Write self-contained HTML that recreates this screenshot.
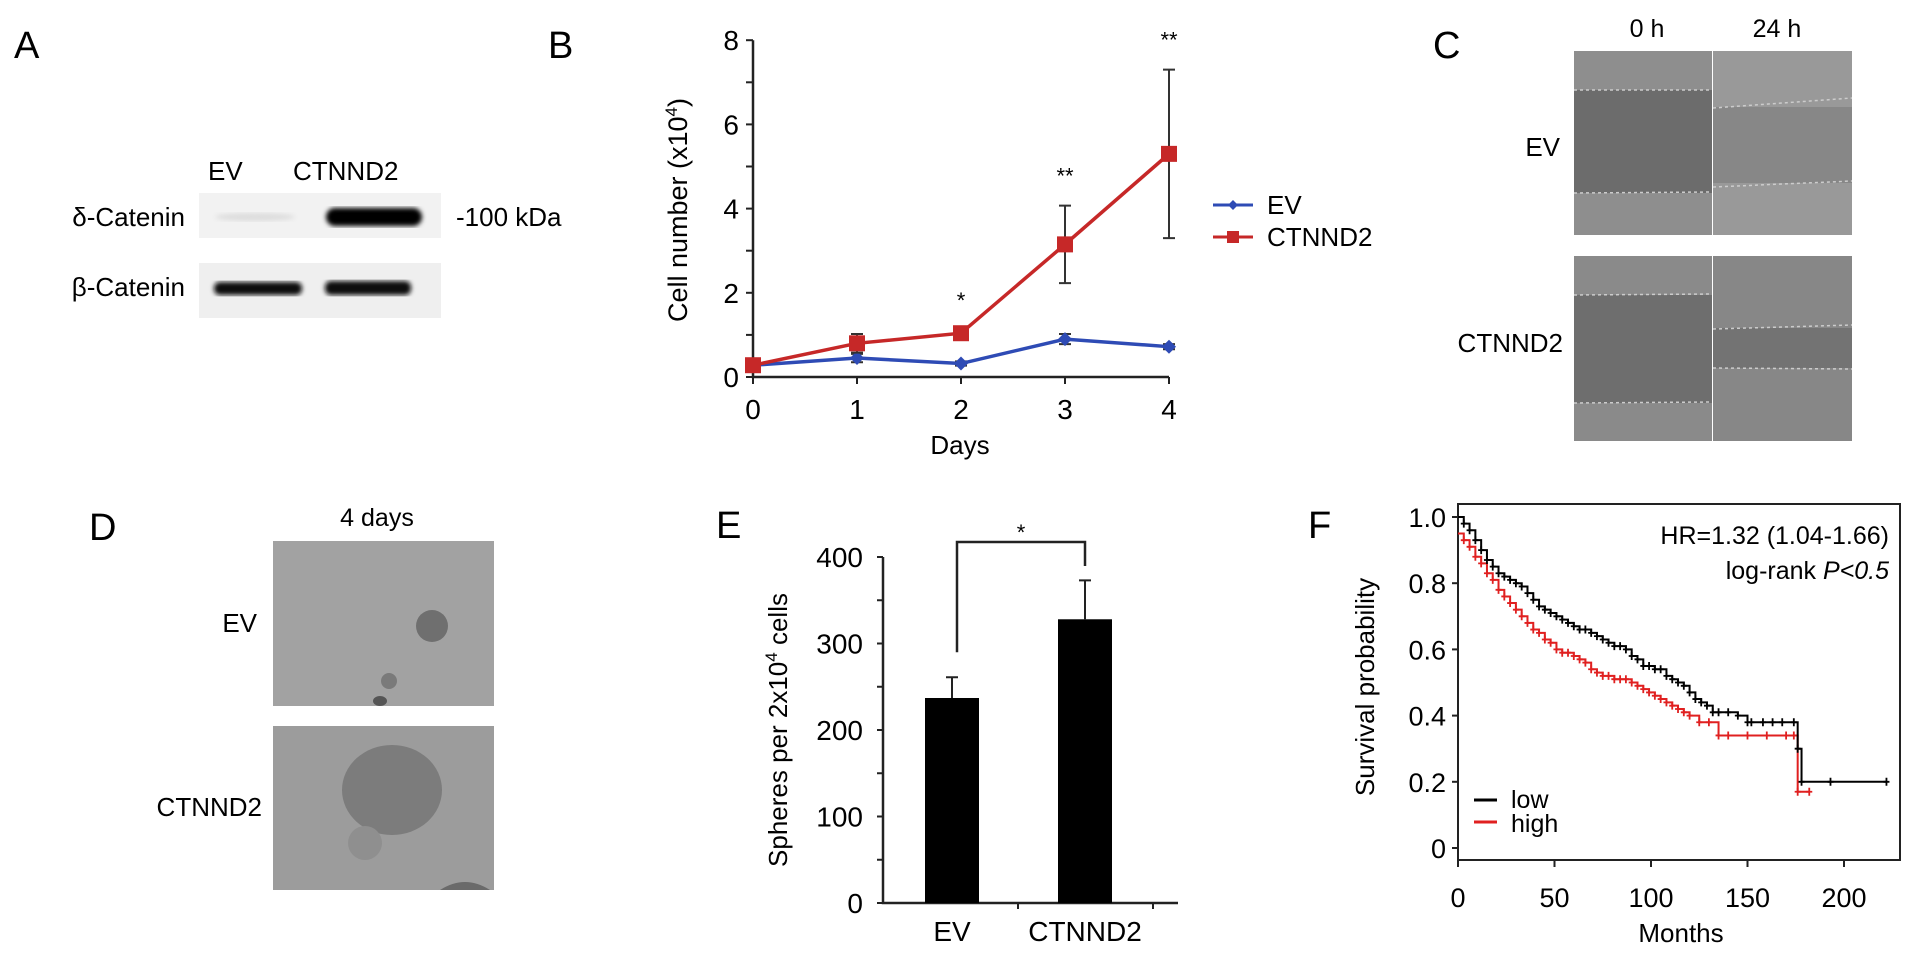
<!DOCTYPE html>
<html><head><meta charset="utf-8"><style>
html,body{margin:0;padding:0;background:#fff;}
svg{display:block;font-family:"Liberation Sans",Arial,sans-serif;}
</style></head><body>
<svg id="fig" width="1913" height="957" viewBox="0 0 1913 957" xmlns="http://www.w3.org/2000/svg">
<defs>
<filter id="blur2"><feGaussianBlur stdDeviation="2.5"/></filter>
</defs>

<!-- Panel A -->
<g>
<text x="14" y="58" font-size="38">A</text>
<text x="208" y="180" font-size="26">EV</text>
<text x="293" y="180" font-size="26">CTNND2</text>
<text x="185" y="226" font-size="26" text-anchor="end">δ-Catenin</text>
<text x="185" y="296" font-size="26" text-anchor="end">β-Catenin</text>
<text x="456" y="226" font-size="26">-100 kDa</text>
<rect x="199" y="193" width="242" height="45" fill="#f2f2f2"/>
<ellipse cx="255" cy="217" rx="40" ry="4" fill="#ddd" filter="url(#blur2)"/>
<rect x="326" y="208" width="96" height="18" rx="9" fill="#000" filter="url(#blur2)"/>
<rect x="199" y="263" width="242" height="55" fill="#efefef"/>
<rect x="214" y="282" width="88" height="13" rx="6" fill="#111" filter="url(#blur2)"/>
<rect x="325" y="281" width="86" height="14" rx="6" fill="#111" filter="url(#blur2)"/>
</g>

<!-- Panel B -->
<g id="panelB">
<text x="548" y="58" font-size="38">B</text>
<text transform="translate(687,210) rotate(-90)" font-size="27" text-anchor="middle">Cell number (x10<tspan dy="-10" font-size="17">4</tspan><tspan dy="10">)</tspan></text>
<text x="960" y="454" font-size="26" text-anchor="middle">Days</text>
<line x1="1213" y1="205" x2="1253" y2="205" stroke="#2e4bb5" stroke-width="3"/>
<path d="M1233 200 L1238 205 L1233 210 L1228 205Z" fill="#2e4bb5"/>
<text x="1267" y="214" font-size="26">EV</text>
<line x1="1213" y1="237" x2="1253" y2="237" stroke="#c62828" stroke-width="3"/>
<rect x="1227" y="231" width="12" height="12" fill="#c62828"/>
<text x="1267" y="246" font-size="26">CTNND2</text>
</g>

<!-- Panel C -->
<g>
<text x="1433" y="58" font-size="38">C</text>
<text x="1647" y="37" font-size="25" text-anchor="middle">0 h</text>
<text x="1777" y="37" font-size="25" text-anchor="middle">24 h</text>
<text x="1560" y="156" font-size="26" text-anchor="end">EV</text>
<text x="1563" y="352" font-size="26" text-anchor="end">CTNND2</text>
<g>
<rect x="1574" y="51" width="138" height="184" fill="#8e8e8e"/>
<rect x="1574" y="90" width="138" height="103" fill="#6c6c6c"/>
<rect x="1713" y="51" width="139" height="184" fill="#999"/>
<rect x="1713" y="107" width="139" height="76" fill="#878787"/>
<rect x="1574" y="256" width="138" height="185" fill="#8a8a8a"/>
<rect x="1574" y="295" width="138" height="108" fill="#6e6e6e"/>
<rect x="1713" y="256" width="139" height="185" fill="#878787"/>
<rect x="1713" y="328" width="139" height="40" fill="#737373"/>
</g>
<g stroke="#ccc" stroke-width="1.5" stroke-dasharray="3 3" fill="none">
<path d="M1574 90 L1712 90 M1574 193 L1712 192 M1713 108 L1852 98 M1713 187 L1852 181 M1574 295 L1712 294 M1574 403 L1712 402 M1713 329 L1852 325 M1713 368 L1852 369"/>
</g>
</g>

<!-- Panel D -->
<g>
<text x="89" y="540" font-size="38">D</text>
<text x="377" y="526" font-size="25" text-anchor="middle">4 days</text>
<text x="257" y="632" font-size="26" text-anchor="end">EV</text>
<text x="262" y="816" font-size="26" text-anchor="end">CTNND2</text>
<g>
<rect x="273" y="541" width="221" height="165" fill="#a2a2a2"/>
<circle cx="432" cy="626" r="16" fill="#6f6f6f"/>
<circle cx="389" cy="681" r="8" fill="#7a7a7a"/>
<ellipse cx="380" cy="701" rx="7" ry="5" fill="#555"/>
<rect x="273" y="726" width="221" height="164" fill="#9c9c9c"/>
<ellipse cx="392" cy="790" rx="50" ry="45" fill="#7c7c7c"/>
<circle cx="365" cy="843" r="17" fill="#8f8f8f"/>
<path d="M440 890 Q465 874 490 890 Z" fill="#6a6a6a"/>
</g>
</g>

<!-- Panel E -->
<g id="panelE">
<text x="716" y="538" font-size="38">E</text>
<text transform="translate(787,730) rotate(-90)" font-size="26" text-anchor="middle">Spheres per 2x10<tspan dy="-10" font-size="17">4</tspan><tspan dy="10"> cells</tspan></text>
</g>

<!-- Panel F -->
<g id="panelF">
<text x="1308" y="538" font-size="38">F</text>
<text transform="translate(1374,687) rotate(-90)" font-size="26" text-anchor="middle">Survival probability</text>
<text x="1681" y="942" font-size="26" text-anchor="middle">Months</text>
<rect x="1458" y="504" width="442" height="356" fill="none" stroke="#222" stroke-width="2"/>
<text x="1889" y="544" font-size="25" text-anchor="end">HR=1.32 (1.04-1.66)</text>
<text x="1889" y="579" font-size="25" text-anchor="end">log-rank <tspan font-style="italic">P&lt;0.5</tspan></text>
<line x1="1474" y1="800" x2="1497" y2="800" stroke="#000" stroke-width="3"/>
<text x="1511" y="808" font-size="25">low</text>
<line x1="1474" y1="822" x2="1497" y2="822" stroke="#e02020" stroke-width="3"/>
<text x="1511" y="832" font-size="25">high</text>
</g>

<script>
// ---------- Panel B data ----------
var bDays = [0, 1, 2, 3, 4];
var bEV = [0.28, 0.45, 0.32, 0.9, 0.72];
var bEVerr = [0.05, 0.1, 0.05, 0.12, 0.06];
var bCT = [0.28, 0.8, 1.04, 3.15, 5.3];
var bCTerr = [0.05, 0.22, 0.08, 0.92, 2.0];
var bStars = ["", "", "*", "**", "**"];
var bYTicks = [0, 2, 4, 6, 8];
// ---------- Panel E data ----------
var eCats = ["EV", "CTNND2"];
var eVals = [237, 328];
var eErr = [24, 45];
var eYTicks = [0, 100, 200, 300, 400];
// ---------- Panel F data ----------
var fTicksX = [0, 50, 100, 150, 200];
var fTicksY = [0, 0.2, 0.4, 0.6, 0.8, 1.0];
var lowT = [0,3,6,9,12,15,18,21,24,27,30,33,36,39,42,45,48,51,54,57,60,63,66,69,72,75,78,81,84,87,90,93,96,99,102,105,108,111,114,117,120,123,126,129,132,135,140,145,150,152,158,163,168,174,176,178,193,222];
var lowS = [1.0,0.98,0.96,0.93,0.9,0.87,0.85,0.83,0.82,0.81,0.80,0.79,0.77,0.75,0.73,0.72,0.71,0.70,0.69,0.68,0.67,0.66,0.66,0.65,0.64,0.63,0.62,0.61,0.61,0.60,0.58,0.57,0.55,0.55,0.54,0.54,0.52,0.51,0.50,0.49,0.47,0.45,0.44,0.43,0.41,0.41,0.41,0.40,0.38,0.38,0.38,0.38,0.38,0.38,0.30,0.20,0.20,0.20];
var highT = [0,3,6,9,12,15,18,21,24,27,30,33,36,39,42,45,48,51,54,57,60,63,66,69,72,75,78,81,84,87,90,93,96,99,102,105,108,111,114,117,120,125,130,135,140,150,160,170,174,176,182];
var highS = [0.95,0.93,0.91,0.88,0.86,0.83,0.81,0.78,0.76,0.74,0.72,0.70,0.68,0.66,0.65,0.63,0.62,0.60,0.59,0.59,0.58,0.57,0.56,0.54,0.53,0.52,0.52,0.51,0.51,0.51,0.50,0.49,0.48,0.47,0.46,0.45,0.44,0.43,0.42,0.41,0.40,0.38,0.38,0.34,0.34,0.34,0.34,0.34,0.34,0.17,0.17];

var NS = "http://www.w3.org/2000/svg";
function mk(parent, tag, attrs, txt) {
  var el = document.createElementNS(NS, tag);
  for (var k in attrs) el.setAttribute(k, attrs[k]);
  if (txt !== undefined) el.textContent = txt;
  parent.appendChild(el);
  return el;
}

// ---------- Panel B ----------
(function(){
  var g = document.getElementById("panelB");
  function bx(d){ return 753 + d * 104; }
  function by(v){ return 377 - v * 42.1; }
  var ax = mk(g, "path", {d: "M" + bx(0) + " " + by(8) + " L" + bx(0) + " " + by(0) + " L" + bx(4) + " " + by(0), fill: "none", stroke: "#222", "stroke-width": 2.5});
  
  
  for (var v = 0; v <= 8; v++) {
    var t = mk(g, "line", {x1: bx(0) - 7, y1: by(v), x2: bx(0), y2: by(v), stroke: "#222", "stroke-width": 2});
    
    
  }
  bYTicks.forEach(function(v){
    var t = mk(g, "text", {x: bx(0) - 14, y: by(v) + 10, "font-size": 28, "text-anchor": "end"}, String(v));
    
    
  });
  bDays.forEach(function(d){
    var t = mk(g, "line", {x1: bx(d), y1: by(0), x2: bx(d), y2: by(0) + 7, stroke: "#222", "stroke-width": 2});
    
    
    var l = mk(g, "text", {x: bx(d), y: 419, "font-size": 28, "text-anchor": "middle"}, String(d));
    
    
  });
  function series(vals, errs, color, name, square) {
    bDays.forEach(function(d, i){
      var e = mk(g, "path", {d: "M" + bx(d) + " " + by(vals[i] + errs[i]) + " V" + by(vals[i] - errs[i]) + " M" + (bx(d) - 6) + " " + by(vals[i] + errs[i]) + " h12 M" + (bx(d) - 6) + " " + by(vals[i] - errs[i]) + " h12", stroke: "#333", "stroke-width": 2, fill: "none"});
      
      
    });
    var pts = bDays.map(function(d, i){ return bx(d) + "," + by(vals[i]); }).join(" ");
    var pl = mk(g, "polyline", {points: pts, fill: "none", stroke: color, "stroke-width": 3.5});
    
    
    bDays.forEach(function(d, i){
      var m;
      if (square) m = mk(g, "rect", {x: bx(d) - 8, y: by(vals[i]) - 8, width: 16, height: 16, fill: color});
      else m = mk(g, "path", {d: "M" + bx(d) + " " + (by(vals[i]) - 7) + " l7 7 l-7 7 l-7 -7z", fill: color});
      
      
    });
  }
  series(bEV, bEVerr, "#2e4bb5", "ev", false);
  series(bCT, bCTerr, "#c62828", "ctnnd2", true);
  bDays.forEach(function(d, i){
    if (!bStars[i]) return;
    var s = mk(g, "text", {x: bx(d), y: by(bCT[i] + bCTerr[i]) - 22, "font-size": 22, "text-anchor": "middle"}, bStars[i]);
    
    
  });
})();

// ---------- Panel E ----------
(function(){
  var g = document.getElementById("panelE");
  var x0 = 883, x1 = 1178;
  function ey(v){ return 903 - v * 0.865; }
  var centers = [952, 1085];
  var ax = mk(g, "path", {d: "M" + x0 + " " + ey(400) + " V" + ey(0) + " H" + x1, fill: "none", stroke: "#222", "stroke-width": 2.5});
  
  
  for (var v = 0; v <= 400; v += 50) {
    var t = mk(g, "line", {x1: x0 - 6, y1: ey(v), x2: x0, y2: ey(v), stroke: "#222", "stroke-width": 2});
    
    
  }
  eYTicks.forEach(function(v){
    var t = mk(g, "text", {x: 863, y: ey(v) + 10, "font-size": 28, "text-anchor": "end"}, String(v));
    
    
  });
  [1018, 1153].forEach(function(x){
    var t = mk(g, "line", {x1: x, y1: ey(0), x2: x, y2: ey(0) + 6, stroke: "#222", "stroke-width": 2});
    
    
  });
  eCats.forEach(function(c, i){
    var cx = centers[i];
    var e = mk(g, "path", {d: "M" + cx + " " + ey(eVals[i]) + " V" + ey(eVals[i] + eErr[i]) + " M" + (cx - 6) + " " + ey(eVals[i] + eErr[i]) + " h12", stroke: "#222", "stroke-width": 2, fill: "none"});
    
    
    var b = mk(g, "rect", {x: cx - 27, y: ey(eVals[i]), width: 54, height: ey(0) - ey(eVals[i]), fill: "#000"});
    
    
    var l = mk(g, "text", {x: cx, y: 941, "font-size": 28, "text-anchor": "middle"}, c);
    
    
  });
  var br = mk(g, "path", {d: "M957 " + (ey(eVals[0] + eErr[0]) - 25) + " V542 H1085 V566", fill: "none", stroke: "#222", "stroke-width": 2.5});
  
  
  var st = mk(g, "text", {x: 1021, y: 540, "font-size": 22, "text-anchor": "middle"}, "*");
  
  
})();

// ---------- Panel F ----------
(function(){
  var g = document.getElementById("panelF");
  function fx(m){ return 1458 + m * 1.93; }
  function fy(s){ return 848 - s * 331; }
  fTicksY.forEach(function(v){
    var t = mk(g, "line", {x1: 1452, y1: fy(v), x2: 1458, y2: fy(v), stroke: "#222", "stroke-width": 2});
    
    
    var l = mk(g, "text", {x: 1446, y: fy(v) + 10, "font-size": 27, "text-anchor": "end"}, v === 0 ? "0" : v.toFixed(1));
    
    
  });
  fTicksX.forEach(function(m){
    var t = mk(g, "line", {x1: fx(m), y1: 860, x2: fx(m), y2: 867, stroke: "#222", "stroke-width": 2});
    
    
    var l = mk(g, "text", {x: fx(m), y: 907, "font-size": 27, "text-anchor": "middle"}, String(m));
    
    
  });
  function km(T, S, color, name) {
    var d = "M" + fx(T[0]) + " " + fy(S[0]);
    for (var i = 1; i < T.length; i++) d += " H" + fx(T[i]) + " V" + fy(S[i]);
    var p = mk(g, "path", {d: d, fill: "none", stroke: color, "stroke-width": 2});
    
    
    var c = "";
    for (var j = 1; j < T.length; j++) c += "M" + (fx(T[j]) - 3) + " " + fy(S[j]) + " h6 M" + fx(T[j]) + " " + (fy(S[j]) - 4) + " v8 ";
    var cm = mk(g, "path", {d: c, fill: "none", stroke: color, "stroke-width": 1.8});
    
    
  }
  km(highT, highS, "#e02020", "high");
  km(lowT, lowS, "#000", "low");
})();
</script>
</svg>
</body></html>
